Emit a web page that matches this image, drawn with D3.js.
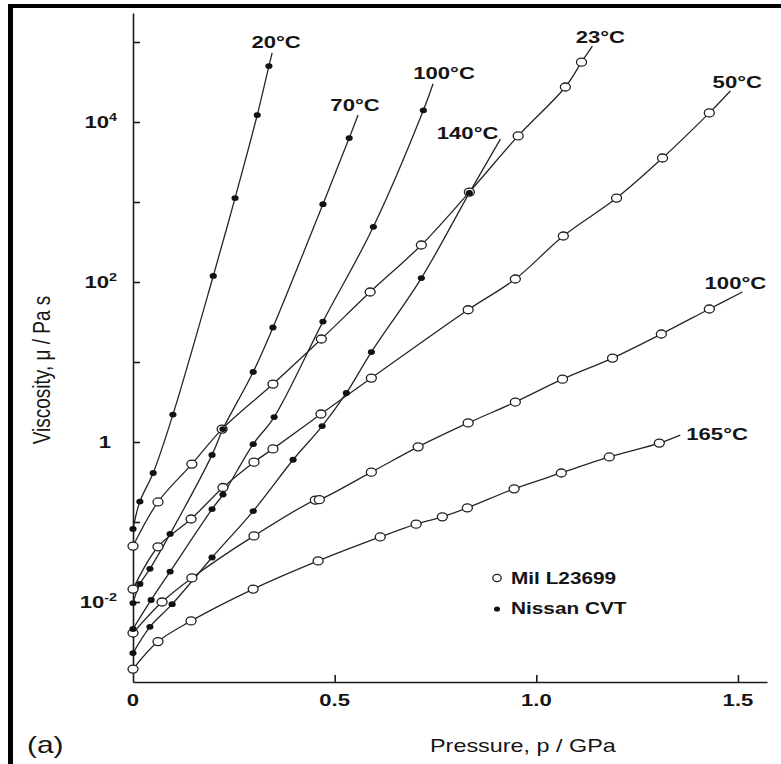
<!DOCTYPE html>
<html><head><meta charset="utf-8">
<script src="https://cdn.jsdelivr.net/npm/d3@7"></script>
<style>body{margin:0;background:#fff}svg{display:block}text{font-family:"Liberation Sans",Arial,sans-serif;fill:#151515}</style>
</head><body>
<svg id="chart" width="781" height="764"></svg>
<script>
// ---------- data (pressure in GPa, viscosity in Pa s) ----------
const nissan20P    = [0, 0.017, 0.050, 0.099, 0.199, 0.253, 0.308, 0.337];
const nissan20Mu   = [0.082, 0.18, 0.41, 2.2, 119, 1120, 12200, 50000];
const nissan20Tail = [0.345, 73000];

const nissan70P    = [0, 0.017, 0.042, 0.092, 0.196, 0.223, 0.298, 0.347, 0.471, 0.536];
const nissan70Mu   = [0.0097, 0.0168, 0.026, 0.071, 0.69, 1.45, 7.5, 27, 940, 6300];
const nissan70Tail = [0.558, 12200];

const nissan100P    = [0, 0.045, 0.092, 0.196, 0.223, 0.298, 0.350, 0.471, 0.596, 0.720];
const nissan100Mu   = [0.0046, 0.0106, 0.024, 0.145, 0.22, 0.94, 2.05, 32, 490, 14000];
const nissan100Tail = [0.744, 30000];

const nissan140P    = [0, 0.042, 0.097, 0.196, 0.298, 0.397, 0.469, 0.529, 0.591, 0.715, 0.834];
const nissan140Mu   = [0.0023, 0.0049, 0.0094, 0.036, 0.137, 0.60, 1.58, 4.1, 13.3, 112, 1300];
const nissan140Tail = [0.911, 6100];

const mil23P    = [0, 0.062, 0.146, 0.221, 0.347, 0.467, 0.588, 0.715, 0.834, 0.955, 1.072, 1.112];
const mil23Mu   = [0.050, 0.178, 0.53, 1.45, 5.3, 19.4, 75, 290, 1330, 6700, 27400, 56000];
const mil23Tail = [1.139, 89000];

const mil50P    = [0, 0.062, 0.144, 0.223, 0.300, 0.347, 0.466, 0.591, 0.831, 0.948, 1.067, 1.199, 1.313, 1.429];
const mil50Mu   = [0.0145, 0.049, 0.109, 0.27, 0.56, 0.82, 2.24, 6.3, 45, 109, 376, 1120, 3550, 13000];
const mil50Tail = [1.481, 24400];

const mil100P    = [0, 0.072, 0.146, 0.300, 0.452, 0.462, 0.591, 0.707, 0.831, 0.948, 1.065, 1.189, 1.310, 1.429];
const mil100Mu   = [0.0041, 0.010, 0.020, 0.067, 0.188, 0.19, 0.42, 0.87, 1.73, 3.16, 6.1, 11.2, 22.4, 46];
const mil100Tail = [1.511, 75];

const mil165P    = [0, 0.062, 0.144, 0.298, 0.459, 0.613, 0.702, 0.767, 0.829, 0.945, 1.062, 1.181, 1.305];
const mil165Mu   = [0.00145, 0.0032, 0.0058, 0.0145, 0.0326, 0.065, 0.094, 0.116, 0.150, 0.26, 0.41, 0.65, 0.97];
const mil165Tail = [1.357, 1.22];

const xTickValues = [0, 0.5, 1.0, 1.5];
const xTickLabels = ["0", "0.5", "1.0", "1.5"];
const yTickExps   = [-2, -1, 0, 1, 2, 3, 4, 5];
const yLabelExps  = [-2, 0, 2, 4];
const legendLabels = ["Mil L23699", "Nissan CVT"];

const series = [
  {id:"m23",  label:"23°C",  oil:"mil",    p:mil23P,    mu:mil23Mu,    tail:mil23Tail},
  {id:"m50",  label:"50°C",  oil:"mil",    p:mil50P,    mu:mil50Mu,    tail:mil50Tail},
  {id:"m100", label:"100°C", oil:"mil",    p:mil100P,   mu:mil100Mu,   tail:mil100Tail},
  {id:"m165", label:"165°C", oil:"mil",    p:mil165P,   mu:mil165Mu,   tail:mil165Tail},
  {id:"n20",  label:"20°C",  oil:"nissan", p:nissan20P, mu:nissan20Mu, tail:nissan20Tail},
  {id:"n70",  label:"70°C",  oil:"nissan", p:nissan70P, mu:nissan70Mu, tail:nissan70Tail},
  {id:"n100", label:"100°C", oil:"nissan", p:nissan100P,mu:nissan100Mu,tail:nissan100Tail},
  {id:"n140", label:"140°C", oil:"nissan", p:nissan140P,mu:nissan140Mu,tail:nissan140Tail}
];

// ---------- layout / style ----------
const SX = 1.3; // horizontal stretch of the original figure's lettering
const labelLayout = {
  n20:{dx:4,dy:-5,anchor:"middle"}, n70:{dx:-3,dy:-4,anchor:"middle"},
  n100:{dx:11,dy:-5,anchor:"middle"}, n140:{dx:-2,dy:0,anchor:"end"},
  m23:{dx:8,dy:-3,anchor:"middle"}, m50:{dx:7,dy:-3,anchor:"middle"},
  m100:{dx:-7,dy:-3,anchor:"middle"}, m165:{dx:6,dy:5,anchor:"start"}
};

const svg = d3.select("#chart");
const x = d3.scaleLinear().domain([0, 1.572]).range([133, 767]);
const y = d3.scaleLog().domain([1e-3, Math.pow(10, 5.3625)]).range([682, 13]);

function stext(g, px, py, str, o) {
  const t = g.append("text")
    .attr("transform", `translate(${px},${py}) scale(${SX},1)` + (o.rotate ? ` rotate(${o.rotate})` : ""))
    .attr("text-anchor", o.anchor || "start")
    .style("font-size", o.size + "px")
    .style("font-weight", o.weight || "normal");
  if (str !== null) t.text(str);
  return t;
}

// frame (left and top rules of the original page)
svg.append("rect").attr("x", 8).attr("y", 4).attr("width", 5).attr("height", 760).attr("fill", "#000");
svg.append("rect").attr("x", 8).attr("y", 4).attr("width", 773).attr("height", 4).attr("fill", "#000");

// axes
const yAxis = svg.append("g").attr("transform", `translate(${x(0)},0)`)
  .call(d3.axisRight(y).tickValues(yTickExps.map(e => Math.pow(10, e))).tickSize(7).tickSizeOuter(0).tickFormat(""));
const xAxis = svg.append("g").attr("transform", `translate(0,${y(1e-3)})`)
  .call(d3.axisTop(x).tickValues(xTickValues.slice(1)).tickSize(7).tickSizeOuter(0).tickFormat(""));
svg.selectAll(".domain, .tick line").attr("stroke", "#1a1a1a").attr("stroke-width", 1.6);

// tick labels
xTickValues.forEach((v, i) => stext(svg, x(v), 706, xTickLabels[i], {size:17, weight:"bold", anchor:"middle"}));
yLabelExps.forEach(e => {
  if (e === 0) {
    stext(svg, 111, y(1) + 6, "1", {size:17, weight:"bold", anchor:"end"});
  } else {
    const t = stext(svg, 117, y(Math.pow(10, e)) + 6, null, {size:17, weight:"bold", anchor:"end"});
    t.append("tspan").text("10");
    t.append("tspan").attr("dy", -7).style("font-size", "11px").text(String(e));
  }
});

// axis titles
stext(svg, 430, 752, "Pressure, p / GPa", {size:18});
svg.select("text:last-child");
stext(svg, 50, 370, "Viscosity, μ / Pa s", {size:19, anchor:"middle", rotate:-90});
stext(svg, 27, 753, "(a)", {size:23});

// curves
const line = d3.line().x(d => x(d[0])).y(d => y(d[1])).curve(d3.curveCatmullRom.alpha(0.5));
const gLines = svg.append("g");
series.forEach(s => {
  const pts = s.p.map((p, i) => [p, s.mu[i]]).concat([s.tail]);
  gLines.append("path").attr("d", line(pts)).attr("fill", "none")
    .attr("stroke", "#262626").attr("stroke-width", 1.3);
});

// markers: open circles first, filled dots on top
series.filter(s => s.oil === "mil").forEach(s => {
  svg.append("g").selectAll("ellipse").data(s.p.map((p, i) => [p, s.mu[i]])).join("ellipse")
    .attr("cx", d => x(d[0])).attr("cy", d => y(d[1])).attr("rx", 5).attr("ry", 4)
    .attr("fill", "#fff").attr("stroke", "#1e1e1e").attr("stroke-width", 1.3);
});
series.filter(s => s.oil === "nissan").forEach(s => {
  svg.append("g").selectAll("ellipse").data(s.p.map((p, i) => [p, s.mu[i]])).join("ellipse")
    .attr("cx", d => x(d[0])).attr("cy", d => y(d[1])).attr("rx", 3.6).attr("ry", 2.9)
    .attr("fill", "#111");
});

// curve labels
series.forEach(s => {
  const L = labelLayout[s.id];
  stext(svg, x(s.tail[0]) + L.dx, y(s.tail[1]) + L.dy, s.label, {size:17, weight:"bold", anchor:L.anchor});
});

// legend
svg.append("ellipse").attr("cx", 497).attr("cy", 578).attr("rx", 4.2).attr("ry", 3.6)
  .attr("fill", "#fff").attr("stroke", "#1e1e1e").attr("stroke-width", 1.3);
svg.append("ellipse").attr("cx", 497).attr("cy", 609).attr("rx", 3).attr("ry", 2.6).attr("fill", "#111");
stext(svg, 511, 584, legendLabels[0], {size:16, weight:"bold"});
stext(svg, 511, 614, legendLabels[1], {size:16, weight:"bold"});
</script>
</body></html>
